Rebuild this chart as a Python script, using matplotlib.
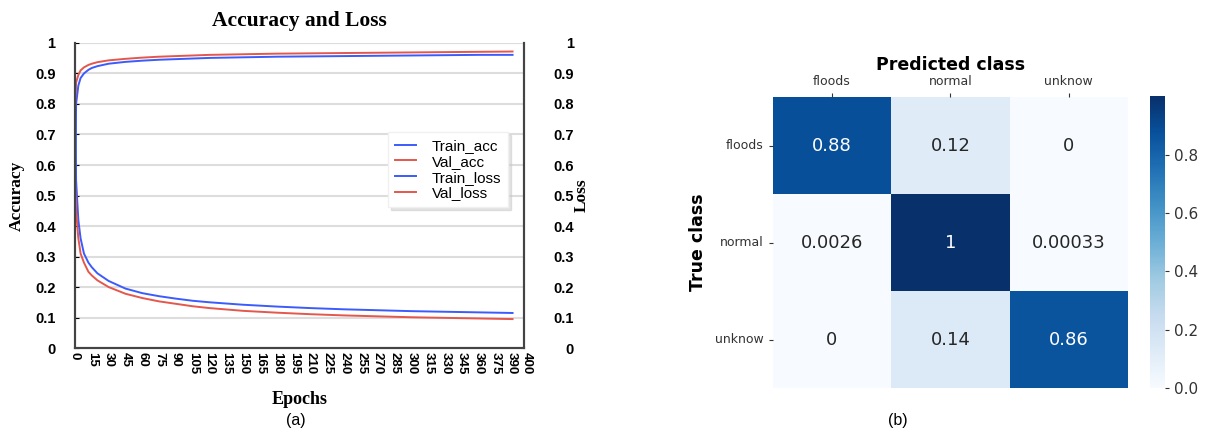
import numpy as np
import matplotlib
matplotlib.use("Agg")
import matplotlib.pyplot as plt
import matplotlib.transforms as mtransforms
import seaborn as sns

# training curves
epochs = [0, 1, 3, 5, 8, 12, 15, 20, 30, 45, 60, 75, 90, 105, 120, 150,
          180, 210, 240, 270, 300, 330, 360, 390]
train_acc = [0.45, 0.80, 0.86, 0.885, 0.90, 0.912, 0.918, 0.924, 0.932, 0.938,
             0.942, 0.945, 0.947, 0.949, 0.951, 0.953, 0.955, 0.956, 0.957,
             0.958, 0.959, 0.960, 0.961, 0.961]
val_acc = [0.78, 0.87, 0.895, 0.91, 0.92, 0.928, 0.932, 0.937, 0.943, 0.948,
           0.952, 0.955, 0.957, 0.959, 0.961, 0.963, 0.965, 0.966, 0.967,
           0.968, 0.969, 0.970, 0.971, 0.972]
train_loss = [0.92, 0.55, 0.42, 0.36, 0.31, 0.28, 0.265, 0.245, 0.22, 0.195,
              0.18, 0.17, 0.162, 0.155, 0.15, 0.142, 0.136, 0.131, 0.127,
              0.124, 0.121, 0.119, 0.117, 0.115]
val_loss = [0.55, 0.45, 0.36, 0.31, 0.28, 0.25, 0.238, 0.222, 0.2, 0.178,
            0.164, 0.153, 0.145, 0.137, 0.131, 0.122, 0.116, 0.111, 0.107,
            0.104, 0.101, 0.099, 0.097, 0.095]

xticks = list(range(0, 391, 15)) + [400]
yticks = [0, 0.1, 0.2, 0.3, 0.4, 0.5, 0.6, 0.7, 0.8, 0.9, 1]
ytick_labels = ["0", "0.1", "0.2", "0.3", "0.4", "0.5", "0.6", "0.7", "0.8", "0.9", "1"]

# confusion matrix
classes = ["floods", "normal", "unknow"]
cm = np.array([[0.88, 0.12, 0.0],
               [0.0026, 1.0, 0.00033],
               [0.0, 0.14, 0.86]])

blue = "#3b5bfd"
red = "#e4574c"
serif = "Liberation Serif"
sans = "Liberation Sans"

fig = plt.figure(figsize=(12.13, 4.34), dpi=100)

# ---- (a) accuracy and loss ----
ax = fig.add_axes([0.0618, 0.198, 0.370, 0.703])
ax2 = ax.twinx()

l1, = ax.plot(epochs, train_acc, color=blue, lw=1.4, label="Train_acc")
l2, = ax.plot(epochs, val_acc, color=red, lw=1.4, label="Val_acc")
l3, = ax2.plot(epochs, train_loss, color=blue, lw=1.4, label="Train_loss")
l4, = ax2.plot(epochs, val_loss, color=red, lw=1.4, label="Val_loss")

for a in (ax, ax2):
    a.set_xlim(0, 400)
    a.set_ylim(0, 1)
    a.set_yticks(yticks)
    a.set_yticklabels(ytick_labels, fontfamily=sans, fontweight="bold", fontsize=10.5)
    a.spines["top"].set_visible(False)
    for s in ("left", "right", "bottom"):
        a.spines[s].set_color("#444444")
        a.spines[s].set_linewidth(1.5)

ax.yaxis.grid(True, color="#dddddd", lw=1.5)
ax.set_axisbelow(True)
ax.axhline(1, color="#dddddd", lw=1.5, zorder=0)
ax.tick_params(axis="y", direction="in", length=3, pad=14)
ax2.tick_params(axis="y", direction="in", length=0, pad=36)
for t in ax2.get_yticklabels():
    t.set_horizontalalignment("right")

ax.set_xticks(xticks)
ax.set_xticklabels([str(v) for v in xticks], rotation=-90, fontfamily=sans,
                   fontweight="bold", fontsize=9.5)
ax.tick_params(axis="x", length=0, pad=3)
# nudge the last two crowded labels apart a little
xl = ax.get_xticklabels()
xl[-1].set_transform(xl[-1].get_transform() +
                     mtransforms.ScaledTranslation(3 / 100, 0, fig.dpi_scale_trans))
xl[-2].set_transform(xl[-2].get_transform() +
                     mtransforms.ScaledTranslation(-1 / 100, 0, fig.dpi_scale_trans))

ax.set_title("Accuracy and Loss", fontfamily=serif, fontweight="bold", fontsize=15.5, pad=12)
ax.set_xlabel("Epochs", fontfamily=serif, fontweight="bold", fontsize=13, labelpad=12)
ax.set_ylabel("Accuracy", fontfamily=serif, fontweight="bold", fontsize=12.5, labelpad=7)
ax2.set_ylabel("Loss", fontfamily=serif, fontweight="bold", fontsize=12.5, labelpad=0)

leg = ax2.legend(handles=[l1, l2, l3, l4], loc="upper right",
                 bbox_to_anchor=(0.965, 0.708), prop={"family": sans, "size": 11},
                 handlelength=1.4, handletextpad=1.0, labelspacing=0.12,
                 borderpad=0.45, borderaxespad=0, fancybox=False, framealpha=1,
                 shadow={"color": "#c8c8c8", "alpha": 0.5})
leg.get_frame().set_edgecolor("#f0f0f0")

fig.text(0.244, 0.032, "(a)", ha="center", va="center", fontfamily=sans, fontsize=11.5)

# ---- (b) confusion matrix ----
hax = fig.add_axes([0.637, 0.106, 0.293, 0.670])
cax = fig.add_axes([0.948, 0.106, 0.0124, 0.672])
sns.heatmap(cm, annot=True, fmt=".2g", cmap="Blues", ax=hax, cbar_ax=cax,
            xticklabels=classes, yticklabels=classes,
            annot_kws={"size": 13})
hax.xaxis.tick_top()
hax.xaxis.set_label_position("top")
hax.set_xlabel("Predicted class", fontweight="bold", fontsize=12.5, labelpad=4)
hax.set_ylabel("True class", fontweight="bold", fontsize=12.5, labelpad=6)
hax.tick_params(axis="both", labelsize=9, colors="#333333", length=3)
plt.setp(hax.get_yticklabels(), rotation=0)
cax.tick_params(labelsize=11, colors="#333333", length=3)
cax.set_yticks([0.0, 0.2, 0.4, 0.6, 0.8])

fig.text(0.74, 0.032, "(b)", ha="center", va="center", fontfamily=sans, fontsize=11.5)

fig.savefig("out.png", dpi=100)
